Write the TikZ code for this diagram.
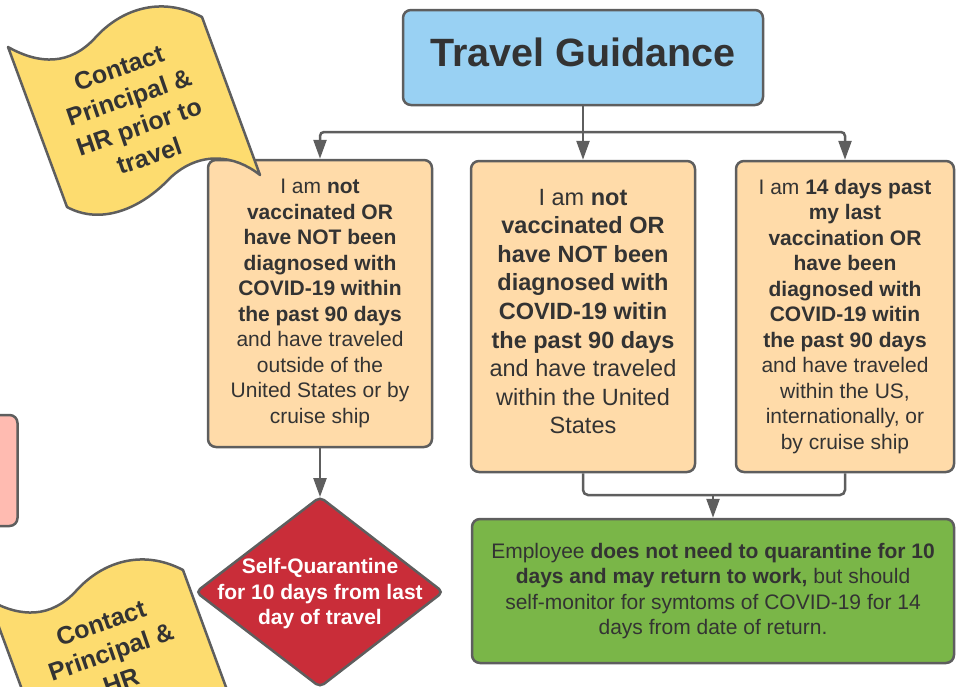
\documentclass[tikz,border=0pt]{standalone}
\usepackage{fontspec}
\setmainfont{Liberation Sans}
\usetikzlibrary{arrows.meta}
\definecolor{edge}{HTML}{5E5E5E}
\definecolor{ink}{HTML}{333333}
\definecolor{peach}{HTML}{FFDBA9}
\definecolor{sky}{HTML}{99D1F3}
\definecolor{flagyellow}{HTML}{FDDC6F}
\definecolor{okgreen}{HTML}{7AB648}
\definecolor{stopred}{HTML}{C92D39}
\definecolor{rose}{HTML}{FFBBB1}
\tikzset{
	every box/.style={
		draw=edge,
		line width=2.5pt,
		rounded corners=8pt,
		fill=peach,
		align=center,
		inner sep=0pt,
		text=ink,
		font=\fontsize{21}{25.5}\selectfont
	},
	title box/.style={
		every box,
		fill=sky,
		text depth=11pt,
		font=\fontsize{39.5}{46}\selectfont\bfseries
	},
	result box/.style={
		every box,
		fill=okgreen
	},
	flag/.style={
		draw=edge,
		line width=2.5pt,
		line join=round,
		fill=flagyellow
	},
	flag text/.style={
		align=center,
		inner sep=0pt,
		text=ink,
		rotate=19,
		font=\fontsize{25}{31}\selectfont\bfseries
	},
	decision/.style={
		draw=edge,
		line width=2.5pt,
		rounded corners=5pt,
		fill=stopred
	},
	link/.style={
		draw=edge,
		line width=2.5pt,
		->
	}
}
\newcommand{\flagpath}{(8,47) .. controls (40,65) and (70,65) .. (95,38)
	.. controls (120,10) and (160,-5) .. (202,17) -- (260,175)
	.. controls (235,155) and (200,150) .. (170,178)
	.. controls (140,210) and (100,225) .. (67,207) -- cycle}

\begin{document}
\begin{tikzpicture}[x=1pt, y=-1pt, >={Triangle[length=19pt, width=13pt]}]

\useasboundingbox (0,0) rectangle (972,686);

% cut-off box on the left
\node [every box, fill=rose, minimum width=77pt, minimum height=111pt] (aside) at (-21,470.5) {};

\node [title box, minimum width=360pt, minimum height=95pt] (title) at (583,57.5) {Travel Guidance};

% the three cases
\node [every box, minimum width=224pt, minimum height=287pt] (case-1) at (320,303.5)
	{I am \textbf{not}\\ \textbf{vaccinated OR}\\ \textbf{have NOT been}\\ \textbf{diagnosed with}\\
	\textbf{COVID-19 within}\\ \textbf{the past 90 days}\\ and have traveled\\ outside of the\\
	United States or by\\ cruise ship};

\node [every box, minimum width=224pt, minimum height=311pt, text depth=10pt,
	font=\fontsize{23.5}{28.6}\selectfont] (case-2) at (583,316.5)
	{I am \textbf{not}\\ \textbf{vaccinated OR}\\ \textbf{have NOT been}\\ \textbf{diagnosed with}\\
	\textbf{COVID-19 witin}\\ \textbf{the past 90 days}\\ and have traveled\\ within the United\\ States};

\node [every box, minimum width=218pt, minimum height=311pt] (case-3) at (845,316.5)
	{I am \textbf{14 days past}\\ \textbf{my last}\\ \textbf{vaccination OR}\\ \textbf{have been}\\
	\textbf{diagnosed with}\\ \textbf{COVID-19 witin}\\ \textbf{the past 90 days}\\ and have traveled\\
	within the US,\\ internationally, or\\ by cruise ship};

\node [result box, minimum width=482pt, minimum height=144pt] (result) at (713,591)
	{Employee \textbf{does not need to quarantine for 10}\\ \textbf{days and may return to work,} but should\\
	self-monitor for symtoms of COVID-19 for 14\\ days from date of return.};

% quarantine diamond
\draw [decision] (320,497) -- (443,592) -- (320,687) -- (196,592) -- cycle;
\coordinate (quarantine-top) at (320,497);
\node [text=white, align=center, inner sep=0pt, font=\fontsize{21}{25.5}\selectfont\bfseries]
	(quarantine) at (320,594) {Self-Quarantine\\ for 10 days from last\\ day of travel};

% connectors
\coordinate (branch) at (583,132);
\coordinate (merge) at (713,495);

\draw [link] (title) -- (case-2);
\foreach \i in {1,3}
	\draw [link, rounded corners=4pt] (branch) -| (case-\i.north);

\draw [link, -, rounded corners=5pt] (case-2.south) |- (case-3.south |- merge) -- (case-3.south);
\draw [link] (merge) -- (result);
\draw [link] (case-1) -- (quarantine-top);

% flags
\draw [flag] \flagpath;
\node [flag text] (flag-1) at (134,112) {Contact\\ Principal \&\\ HR prior to\\ travel};

\draw [flag, shift={(-19,553)}] \flagpath;
\node [flag text] (flag-2) at (111,652) {Contact\\ Principal \&\\ HR};

\end{tikzpicture}
\end{document}
